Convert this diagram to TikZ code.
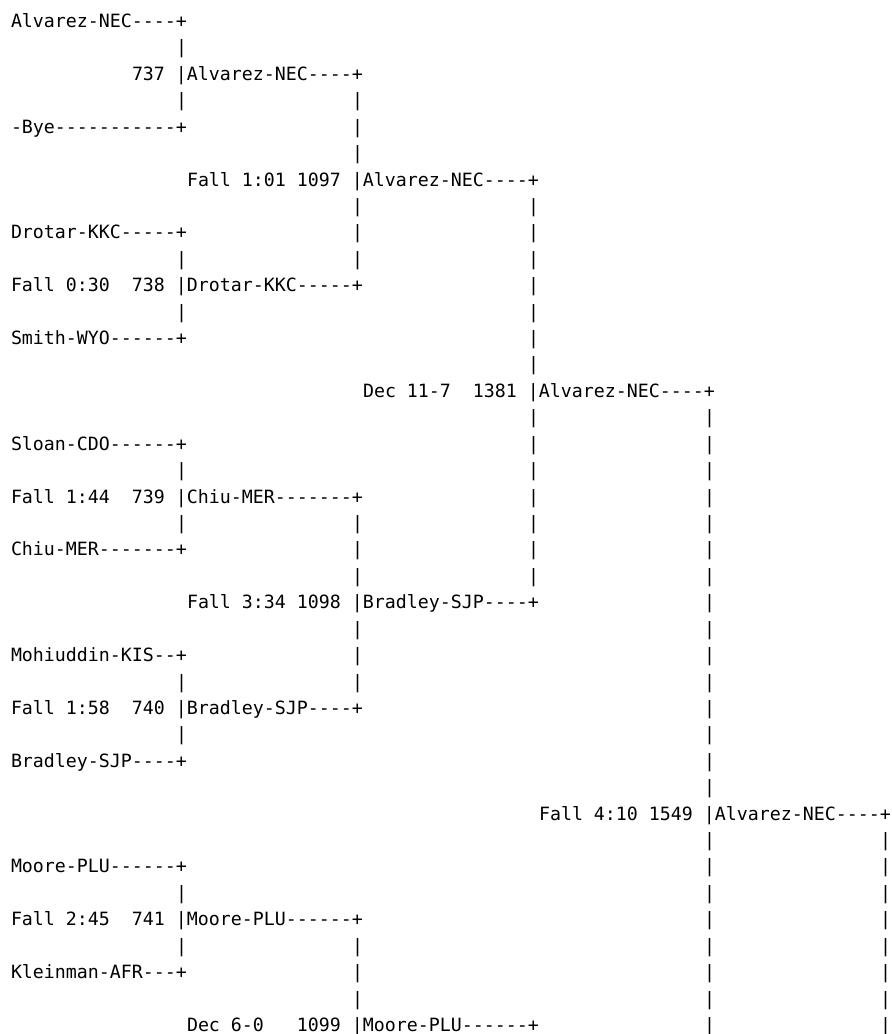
\documentclass[tikz,border=0pt]{standalone}
\usepackage{fontspec}
\setmonofont{DejaVu Sans Mono}
\usepackage{tikz}
\usetikzlibrary{positioning}

\begin{document}
\frenchspacing
\begin{tikzpicture}[x=11pt, y=26.42pt,
  every node/.style={anchor=base west, inner sep=0pt, outer sep=0pt,
    font=\ttfamily\fontsize{18.27pt}{26.42pt}\selectfont},
  entry/.style={text=black},
  result/.style={text=black},
  bar/.style={text=black},
]
\useasboundingbox (-11pt,27.5pt) rectangle (881pt,-1006.5pt);

% Round 1: entries
\node[entry] (alvarez-1) at (0,0) {Alvarez-NEC----+};
\node[entry] (bye-1) at (0,-4) {-Bye-----------+};
\node[entry] (drotar-1) at (0,-8) {Drotar-KKC-----+};
\node[entry] (smith-1) at (0,-12) {Smith-WYO------+};
\node[entry] (sloan-1) at (0,-16) {Sloan-CDO------+};
\node[entry] (chiu-1) at (0,-20) {Chiu-MER-------+};
\node[entry] (mohiuddin-1) at (0,-24) {Mohiuddin-KIS--+};
\node[entry] (bradley-1) at (0,-28) {Bradley-SJP----+};
\node[entry] (moore-1) at (0,-32) {Moore-PLU------+};
\node[entry] (kleinman-1) at (0,-36) {Kleinman-AFR---+};

% Round 2: bouts 737-741
\node[result] (m737) at (11,-2) {737 |Alvarez-NEC----+};
\node[result] (m738) at (0,-10) {Fall 0:30~~738 |Drotar-KKC-----+};
\node[result] (m739) at (0,-18) {Fall 1:44~~739 |Chiu-MER-------+};
\node[result] (m740) at (0,-26) {Fall 1:58~~740 |Bradley-SJP----+};
\node[result] (m741) at (0,-34) {Fall 2:45~~741 |Moore-PLU------+};

% Round 3: bouts 1097-1099
\node[result] (m1097) at (16,-6) {Fall 1:01 1097 |Alvarez-NEC----+};
\node[result] (m1098) at (16,-22) {Fall 3:34 1098 |Bradley-SJP----+};
\node[result] (m1099) at (16,-38) {Dec 6-0~~~1099 |Moore-PLU------+};

% Round 4
\node[result] (m1381) at (32,-14) {Dec 11-7~~1381 |Alvarez-NEC----+};

% Round 5
\node[result] (m1549) at (48,-30) {Fall 4:10 1549 |Alvarez-NEC----+};

% vertical bars
\foreach \r in {1,3,9,11,17,19,25,27,33,35}
  \node[bar] (bar15-\r) at (15,-\r) {|};
\foreach \r in {3,4,5,7,8,9,19,20,21,23,24,25,35,36,37}
  \node[bar] (bar31-\r) at (31,-\r) {|};
\foreach \r in {7,8,...,13,15,16,...,21}
  \node[bar] (bar47-\r) at (47,-\r) {|};
\foreach \r in {15,16,...,29,31,32,...,38}
  \node[bar] (bar63-\r) at (63,-\r) {|};
\foreach \r in {31,32,...,38}
  \node[bar] (bar79-\r) at (79,-\r) {|};
\end{tikzpicture}
\end{document}
